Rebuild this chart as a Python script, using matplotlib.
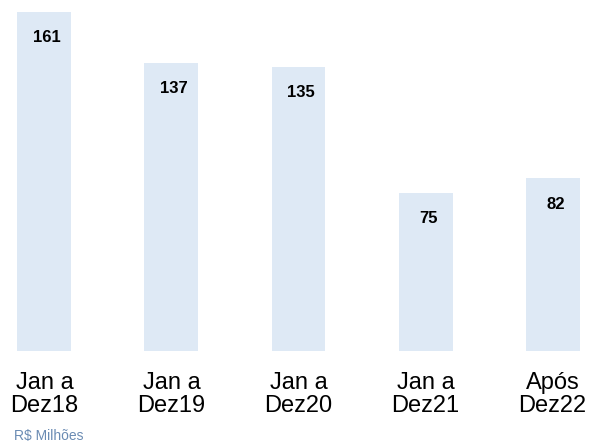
import matplotlib
matplotlib.use("Agg")
import matplotlib.pyplot as plt

periods = ["Jan a\nDez18", "Jan a\nDez19", "Jan a\nDez20", "Jan a\nDez21", "Após\nDez22"]
values = [161, 137, 135, 75, 82]

plt.rcParams['font.family'] = ['Liberation Sans', 'DejaVu Sans']

fig = plt.figure(figsize=(5.9, 4.42), dpi=100)
ax = fig.add_axes([0, 0.2059, 1, 0.7941])

x = list(range(len(values)))
ax.bar(x, values, width=0.425, color="#DEE9F5", edgecolor="none")

for xi, v in zip(x, values):
    ax.annotate(str(v), (xi, v), xytext=(2, -18.5), textcoords="offset points",
                ha="center", va="center", fontsize=12, fontweight="bold", color="black")

ax.set_xlim(-0.350, 4.295)
ax.set_ylim(0, 166.7)
ax.set_xticks(x)
ax.set_xticklabels(periods, fontsize=17, linespacing=1.08)
ax.tick_params(axis="x", length=0, pad=15)
ax.set_yticks([])
for s in ax.spines.values():
    s.set_visible(False)

fig.text(14 / 590, 1 - 440 / 442, "R$ Milhões", fontsize=10, color="#6A8BB3",
         ha="left", va="baseline")

fig.savefig("out.png", dpi=100)
